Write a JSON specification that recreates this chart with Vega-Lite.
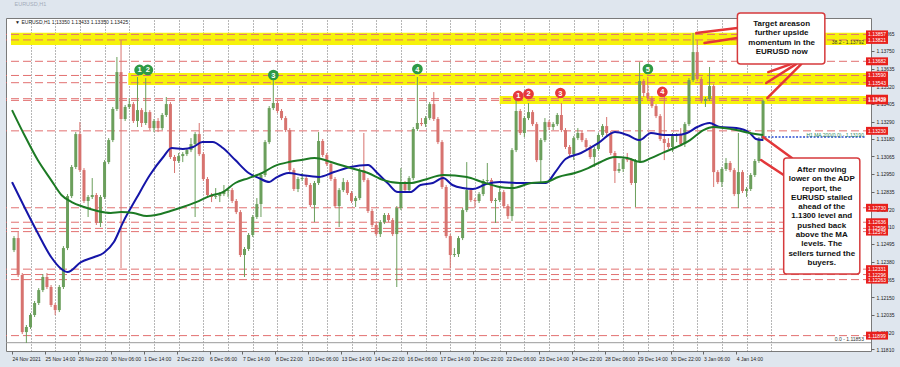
{
"$schema": "https://vega.github.io/schema/vega-lite/v6.json",
"width": 865, "height": 333,
"autosize": {"type": "none"},
"padding": {"left": 6, "top": 18, "right": 29, "bottom": 16},
"background": "#dfe6ee",
"title": {"text": "EURUSD,H1", "anchor": "start", "fontSize": 5.5, "fontWeight": "normal", "color": "#a4adba", "offset": 5, "dx": 9, "font": "Liberation Sans"},
"config": {"view": {"stroke": "#7a7a7a", "fill": "white"}, "font": "Liberation Sans"},
"resolve": {"axis": {"x": "independent", "y": "independent"}},
"datasets": {
"bands": [
{"t":-1,"t2":830,"p":1.13868,"p2":1.13788},
{"t":113,"t2":830,"p":1.13606,"p2":1.13528},
{"t":474,"t2":830,"p":1.13457,"p2":1.13405}
],
"levels": [
{"p":1.13857},{"p":1.13821},{"p":1.13682},{"p":1.13590},{"p":1.13543},{"p":1.13439},{"p":1.13428},{"p":1.13230},{"p":1.12730},{"p":1.12636},{"p":1.12596},{"p":1.12575},{"p":1.12331},{"p":1.12296},{"p":1.12263},{"p":1.11899}
],
"candles": [
{"t":0,"o":1.12455,"h":1.12546,"l":1.12442,"c":1.12533},
{"t":4,"o":1.12533,"h":1.12572,"l":1.12280,"c":1.12293},
{"t":8,"o":1.12293,"h":1.12306,"l":1.11909,"c":1.11922},
{"t":12,"o":1.11922,"h":1.11968,"l":1.11851,"c":1.11955},
{"t":16,"o":1.11955,"h":1.12046,"l":1.11942,"c":1.12033},
{"t":20,"o":1.12033,"h":1.12124,"l":1.12020,"c":1.12111},
{"t":24,"o":1.12111,"h":1.12208,"l":1.12098,"c":1.12195},
{"t":28,"o":1.12195,"h":1.12299,"l":1.12182,"c":1.12280},
{"t":32,"o":1.12280,"h":1.12306,"l":1.12202,"c":1.12215},
{"t":36,"o":1.12215,"h":1.12228,"l":1.12085,"c":1.12098},
{"t":40,"o":1.12098,"h":1.12111,"l":1.12033,"c":1.12065},
{"t":44,"o":1.12065,"h":1.12228,"l":1.12052,"c":1.12215},
{"t":48,"o":1.12215,"h":1.12481,"l":1.12202,"c":1.12468},
{"t":52,"o":1.12468,"h":1.12819,"l":1.12455,"c":1.12806},
{"t":56,"o":1.12806,"h":1.13008,"l":1.12793,"c":1.12995},
{"t":60,"o":1.12995,"h":1.13222,"l":1.12982,"c":1.13209},
{"t":64,"o":1.13209,"h":1.13287,"l":1.12962,"c":1.12975},
{"t":68,"o":1.12975,"h":1.12988,"l":1.12761,"c":1.12774},
{"t":72,"o":1.12774,"h":1.12813,"l":1.12670,"c":1.12800},
{"t":76,"o":1.12800,"h":1.12923,"l":1.12787,"c":1.12813},
{"t":80,"o":1.12813,"h":1.12826,"l":1.12618,"c":1.12631},
{"t":84,"o":1.12631,"h":1.12813,"l":1.12605,"c":1.12800},
{"t":88,"o":1.12800,"h":1.13040,"l":1.12787,"c":1.13027},
{"t":92,"o":1.13027,"h":1.13183,"l":1.13014,"c":1.13170},
{"t":96,"o":1.13170,"h":1.13385,"l":1.13157,"c":1.13372},
{"t":100,"o":1.13372,"h":1.13710,"l":1.13359,"c":1.13612},
{"t":104,"o":1.13612,"h":1.13820,"l":1.12338,"c":1.13307},
{"t":108,"o":1.13307,"h":1.13398,"l":1.13294,"c":1.13385},
{"t":112,"o":1.13385,"h":1.13443,"l":1.13372,"c":1.13404},
{"t":116,"o":1.13404,"h":1.13417,"l":1.13281,"c":1.13294},
{"t":120,"o":1.13294,"h":1.13580,"l":1.13255,"c":1.13365},
{"t":124,"o":1.13365,"h":1.13378,"l":1.13255,"c":1.13281},
{"t":128,"o":1.13281,"h":1.13573,"l":1.13268,"c":1.13352},
{"t":132,"o":1.13352,"h":1.13365,"l":1.13235,"c":1.13248},
{"t":136,"o":1.13248,"h":1.13307,"l":1.13222,"c":1.13294},
{"t":140,"o":1.13294,"h":1.13313,"l":1.13222,"c":1.13248},
{"t":144,"o":1.13248,"h":1.13346,"l":1.13235,"c":1.13333},
{"t":148,"o":1.13333,"h":1.13450,"l":1.13320,"c":1.13404},
{"t":152,"o":1.13404,"h":1.13417,"l":1.13047,"c":1.13060},
{"t":156,"o":1.13060,"h":1.13073,"l":1.12956,"c":1.13034},
{"t":160,"o":1.13034,"h":1.13086,"l":1.13021,"c":1.13066},
{"t":164,"o":1.13066,"h":1.13092,"l":1.13027,"c":1.13079},
{"t":168,"o":1.13079,"h":1.13118,"l":1.13066,"c":1.13105},
{"t":172,"o":1.13105,"h":1.13183,"l":1.13092,"c":1.13144},
{"t":176,"o":1.13144,"h":1.13222,"l":1.12670,"c":1.13209},
{"t":180,"o":1.13209,"h":1.13281,"l":1.13066,"c":1.13079},
{"t":184,"o":1.13079,"h":1.13092,"l":1.12904,"c":1.12917},
{"t":188,"o":1.12917,"h":1.12930,"l":1.12800,"c":1.12813},
{"t":192,"o":1.12813,"h":1.12826,"l":1.12767,"c":1.12800},
{"t":196,"o":1.12800,"h":1.12858,"l":1.12787,"c":1.12806},
{"t":200,"o":1.12806,"h":1.12832,"l":1.12767,"c":1.12819},
{"t":204,"o":1.12819,"h":1.12878,"l":1.12806,"c":1.12839},
{"t":208,"o":1.12839,"h":1.12858,"l":1.12800,"c":1.12845},
{"t":212,"o":1.12845,"h":1.12858,"l":1.12761,"c":1.12774},
{"t":216,"o":1.12774,"h":1.12787,"l":1.12689,"c":1.12702},
{"t":220,"o":1.12702,"h":1.12715,"l":1.12410,"c":1.12423},
{"t":224,"o":1.12423,"h":1.12475,"l":1.12280,"c":1.12462},
{"t":228,"o":1.12462,"h":1.12566,"l":1.12449,"c":1.12553},
{"t":232,"o":1.12553,"h":1.12683,"l":1.12540,"c":1.12670},
{"t":236,"o":1.12670,"h":1.12793,"l":1.12657,"c":1.12754},
{"t":240,"o":1.12754,"h":1.12956,"l":1.12670,"c":1.12943},
{"t":244,"o":1.12943,"h":1.13170,"l":1.12930,"c":1.13157},
{"t":248,"o":1.13157,"h":1.13391,"l":1.13144,"c":1.13378},
{"t":252,"o":1.13378,"h":1.13560,"l":1.13365,"c":1.13411},
{"t":256,"o":1.13411,"h":1.13424,"l":1.13346,"c":1.13359},
{"t":260,"o":1.13359,"h":1.13372,"l":1.13300,"c":1.13313},
{"t":264,"o":1.13313,"h":1.13326,"l":1.13222,"c":1.13235},
{"t":268,"o":1.13235,"h":1.13248,"l":1.12962,"c":1.12975},
{"t":272,"o":1.12975,"h":1.12988,"l":1.12839,"c":1.12852},
{"t":276,"o":1.12852,"h":1.12930,"l":1.12832,"c":1.12917},
{"t":280,"o":1.12917,"h":1.12956,"l":1.12904,"c":1.12923},
{"t":284,"o":1.12923,"h":1.12936,"l":1.12865,"c":1.12878},
{"t":288,"o":1.12878,"h":1.12891,"l":1.12735,"c":1.12748},
{"t":292,"o":1.12748,"h":1.12904,"l":1.12637,"c":1.12891},
{"t":296,"o":1.12891,"h":1.13222,"l":1.12878,"c":1.13164},
{"t":300,"o":1.13164,"h":1.13177,"l":1.13060,"c":1.13073},
{"t":304,"o":1.13073,"h":1.13086,"l":1.13001,"c":1.13014},
{"t":308,"o":1.13014,"h":1.13027,"l":1.12904,"c":1.12917},
{"t":312,"o":1.12917,"h":1.12930,"l":1.12728,"c":1.12741},
{"t":316,"o":1.12741,"h":1.12858,"l":1.12605,"c":1.12845},
{"t":320,"o":1.12845,"h":1.12923,"l":1.12832,"c":1.12897},
{"t":324,"o":1.12897,"h":1.12910,"l":1.12813,"c":1.12826},
{"t":328,"o":1.12826,"h":1.12839,"l":1.12761,"c":1.12774},
{"t":332,"o":1.12774,"h":1.12806,"l":1.12735,"c":1.12793},
{"t":336,"o":1.12793,"h":1.12988,"l":1.12780,"c":1.12975},
{"t":340,"o":1.12975,"h":1.13216,"l":1.12897,"c":1.12910},
{"t":344,"o":1.12910,"h":1.12923,"l":1.12696,"c":1.12709},
{"t":348,"o":1.12709,"h":1.12722,"l":1.12605,"c":1.12618},
{"t":352,"o":1.12618,"h":1.12631,"l":1.12546,"c":1.12559},
{"t":356,"o":1.12559,"h":1.12650,"l":1.12540,"c":1.12637},
{"t":360,"o":1.12637,"h":1.12696,"l":1.12624,"c":1.12683},
{"t":364,"o":1.12683,"h":1.12696,"l":1.12637,"c":1.12650},
{"t":368,"o":1.12650,"h":1.12663,"l":1.12546,"c":1.12559},
{"t":372,"o":1.12559,"h":1.12741,"l":1.12215,"c":1.12728},
{"t":376,"o":1.12728,"h":1.12988,"l":1.12715,"c":1.12891},
{"t":380,"o":1.12891,"h":1.12904,"l":1.12832,"c":1.12845},
{"t":384,"o":1.12845,"h":1.12936,"l":1.12832,"c":1.12923},
{"t":388,"o":1.12923,"h":1.13255,"l":1.12910,"c":1.13242},
{"t":392,"o":1.13242,"h":1.13580,"l":1.13229,"c":1.13281},
{"t":396,"o":1.13281,"h":1.13313,"l":1.13261,"c":1.13274},
{"t":400,"o":1.13274,"h":1.13326,"l":1.13255,"c":1.13313},
{"t":404,"o":1.13313,"h":1.13417,"l":1.13300,"c":1.13404},
{"t":408,"o":1.13404,"h":1.13482,"l":1.13294,"c":1.13307},
{"t":412,"o":1.13307,"h":1.13320,"l":1.13144,"c":1.13157},
{"t":416,"o":1.13157,"h":1.13170,"l":1.12852,"c":1.12865},
{"t":420,"o":1.12865,"h":1.12878,"l":1.12533,"c":1.12546},
{"t":424,"o":1.12546,"h":1.12559,"l":1.12338,"c":1.12423},
{"t":428,"o":1.12423,"h":1.12468,"l":1.12410,"c":1.12429},
{"t":432,"o":1.12429,"h":1.12546,"l":1.12410,"c":1.12533},
{"t":436,"o":1.12533,"h":1.12728,"l":1.12520,"c":1.12715},
{"t":440,"o":1.12715,"h":1.13027,"l":1.12702,"c":1.12845},
{"t":444,"o":1.12845,"h":1.12858,"l":1.12767,"c":1.12780},
{"t":448,"o":1.12780,"h":1.12793,"l":1.12735,"c":1.12774},
{"t":452,"o":1.12774,"h":1.12832,"l":1.12761,"c":1.12819},
{"t":456,"o":1.12819,"h":1.12917,"l":1.12806,"c":1.12904},
{"t":460,"o":1.12904,"h":1.13021,"l":1.12891,"c":1.12910},
{"t":464,"o":1.12910,"h":1.12923,"l":1.12761,"c":1.12774},
{"t":468,"o":1.12774,"h":1.12793,"l":1.12631,"c":1.12780},
{"t":472,"o":1.12780,"h":1.12858,"l":1.12767,"c":1.12832},
{"t":476,"o":1.12832,"h":1.12845,"l":1.12728,"c":1.12741},
{"t":480,"o":1.12741,"h":1.12754,"l":1.12657,"c":1.12676},
{"t":484,"o":1.12676,"h":1.13118,"l":1.12644,"c":1.13105},
{"t":488,"o":1.13105,"h":1.13443,"l":1.13092,"c":1.13359},
{"t":492,"o":1.13359,"h":1.13372,"l":1.13203,"c":1.13216},
{"t":496,"o":1.13216,"h":1.13326,"l":1.13190,"c":1.13313},
{"t":500,"o":1.13313,"h":1.13411,"l":1.13300,"c":1.13352},
{"t":504,"o":1.13352,"h":1.13365,"l":1.13261,"c":1.13274},
{"t":508,"o":1.13274,"h":1.13287,"l":1.13027,"c":1.13040},
{"t":512,"o":1.13040,"h":1.13183,"l":1.12897,"c":1.13170},
{"t":516,"o":1.13170,"h":1.13313,"l":1.13157,"c":1.13287},
{"t":520,"o":1.13287,"h":1.13300,"l":1.13235,"c":1.13255},
{"t":524,"o":1.13255,"h":1.13287,"l":1.13235,"c":1.13274},
{"t":528,"o":1.13274,"h":1.13346,"l":1.13261,"c":1.13333},
{"t":532,"o":1.13333,"h":1.13411,"l":1.13222,"c":1.13235},
{"t":536,"o":1.13235,"h":1.13248,"l":1.13112,"c":1.13125},
{"t":540,"o":1.13125,"h":1.13138,"l":1.13066,"c":1.13079},
{"t":544,"o":1.13079,"h":1.13196,"l":1.13040,"c":1.13183},
{"t":548,"o":1.13183,"h":1.13248,"l":1.13170,"c":1.13216},
{"t":552,"o":1.13216,"h":1.13229,"l":1.13157,"c":1.13170},
{"t":556,"o":1.13170,"h":1.13183,"l":1.13112,"c":1.13125},
{"t":560,"o":1.13125,"h":1.13138,"l":1.13047,"c":1.13060},
{"t":564,"o":1.13060,"h":1.13125,"l":1.12995,"c":1.13112},
{"t":568,"o":1.13112,"h":1.13216,"l":1.13099,"c":1.13203},
{"t":572,"o":1.13203,"h":1.13274,"l":1.13190,"c":1.13261},
{"t":576,"o":1.13261,"h":1.13320,"l":1.13203,"c":1.13216},
{"t":580,"o":1.13216,"h":1.13229,"l":1.13073,"c":1.13086},
{"t":584,"o":1.13086,"h":1.13099,"l":1.12891,"c":1.12969},
{"t":588,"o":1.12969,"h":1.13021,"l":1.12956,"c":1.12982},
{"t":592,"o":1.12982,"h":1.13060,"l":1.12962,"c":1.13047},
{"t":596,"o":1.13047,"h":1.13086,"l":1.13027,"c":1.13040},
{"t":600,"o":1.13040,"h":1.13053,"l":1.12878,"c":1.12891},
{"t":604,"o":1.12891,"h":1.13047,"l":1.12735,"c":1.13034},
{"t":608,"o":1.13034,"h":1.13677,"l":1.13021,"c":1.13554},
{"t":612,"o":1.13554,"h":1.13567,"l":1.13450,"c":1.13476},
{"t":616,"o":1.13476,"h":1.13580,"l":1.13430,"c":1.13443},
{"t":620,"o":1.13443,"h":1.13456,"l":1.13378,"c":1.13391},
{"t":624,"o":1.13391,"h":1.13404,"l":1.13313,"c":1.13326},
{"t":628,"o":1.13326,"h":1.13339,"l":1.13164,"c":1.13177},
{"t":632,"o":1.13177,"h":1.13476,"l":1.13040,"c":1.13151},
{"t":636,"o":1.13151,"h":1.13183,"l":1.13112,"c":1.13125},
{"t":640,"o":1.13125,"h":1.13216,"l":1.13092,"c":1.13196},
{"t":644,"o":1.13196,"h":1.13216,"l":1.13157,"c":1.13203},
{"t":648,"o":1.13203,"h":1.13248,"l":1.13131,"c":1.13144},
{"t":652,"o":1.13144,"h":1.13287,"l":1.13125,"c":1.13274},
{"t":656,"o":1.13274,"h":1.13573,"l":1.13261,"c":1.13560},
{"t":660,"o":1.13560,"h":1.13866,"l":1.13547,"c":1.13742},
{"t":664,"o":1.13742,"h":1.13820,"l":1.13554,"c":1.13567},
{"t":668,"o":1.13567,"h":1.13580,"l":1.13411,"c":1.13424},
{"t":672,"o":1.13424,"h":1.13450,"l":1.13385,"c":1.13437},
{"t":676,"o":1.13437,"h":1.13645,"l":1.13424,"c":1.13521},
{"t":680,"o":1.13521,"h":1.13534,"l":1.12865,"c":1.12962},
{"t":684,"o":1.12962,"h":1.12975,"l":1.12884,"c":1.12897},
{"t":688,"o":1.12897,"h":1.12995,"l":1.12865,"c":1.12982},
{"t":692,"o":1.12982,"h":1.13053,"l":1.12969,"c":1.13021},
{"t":696,"o":1.13021,"h":1.13034,"l":1.12962,"c":1.12975},
{"t":700,"o":1.12975,"h":1.12988,"l":1.12806,"c":1.12819},
{"t":704,"o":1.12819,"h":1.13216,"l":1.12728,"c":1.12962},
{"t":708,"o":1.12962,"h":1.12975,"l":1.12826,"c":1.12839},
{"t":712,"o":1.12839,"h":1.12865,"l":1.12800,"c":1.12852},
{"t":716,"o":1.12852,"h":1.12956,"l":1.12839,"c":1.12943},
{"t":720,"o":1.12943,"h":1.13047,"l":1.12930,"c":1.13034},
{"t":724,"o":1.13034,"h":1.13190,"l":1.13021,"c":1.13177},
{"t":728,"o":1.13177,"h":1.13433,"l":1.13164,"c":1.13425}
],
"mab": [
{"t":0,"v":1.12897},{"t":12,"v":1.12735},{"t":25,"v":1.12566},{"t":38,"v":1.12410},{"t":48,"v":1.12332},{"t":54,"v":1.12312},{"t":67,"v":1.12377},{"t":80,"v":1.12410},{"t":89,"v":1.12436},{"t":99,"v":1.12507},{"t":108,"v":1.12637},{"t":121,"v":1.12793},{"t":134,"v":1.12943},{"t":147,"v":1.13060},{"t":155,"v":1.13118},{"t":166,"v":1.13112},{"t":176,"v":1.13125},{"t":185,"v":1.13157},{"t":195,"v":1.13157},{"t":205,"v":1.13118},{"t":217,"v":1.13040},{"t":230,"v":1.12956},{"t":240,"v":1.12923},{"t":250,"v":1.12897},{"t":256,"v":1.12923},{"t":269,"v":1.12956},{"t":281,"v":1.12943},{"t":298,"v":1.12930},{"t":313,"v":1.12962},{"t":329,"v":1.12995},{"t":346,"v":1.13008},{"t":355,"v":1.12956},{"t":365,"v":1.12891},{"t":375,"v":1.12832},{"t":387,"v":1.12832},{"t":397,"v":1.12878},{"t":409,"v":1.12891},{"t":419,"v":1.12923},{"t":428,"v":1.12878},{"t":438,"v":1.12858},{"t":448,"v":1.12852},{"t":461,"v":1.12884},{"t":474,"v":1.12897},{"t":490,"v":1.12891},{"t":505,"v":1.12891},{"t":519,"v":1.12891},{"t":528,"v":1.12962},{"t":538,"v":1.13047},{"t":553,"v":1.13086},{"t":570,"v":1.13151},{"t":586,"v":1.13222},{"t":598,"v":1.13203},{"t":610,"v":1.13170},{"t":621,"v":1.13216},{"t":634,"v":1.13203},{"t":646,"v":1.13203},{"t":656,"v":1.13216},{"t":666,"v":1.13255},{"t":678,"v":1.13281},{"t":688,"v":1.13255},{"t":704,"v":1.13248},{"t":717,"v":1.13216},{"t":723,"v":1.13177},{"t":730,"v":1.13170}
],
"mag": [
{"t":0,"v":1.13365},{"t":12,"v":1.13203},{"t":25,"v":1.13040},{"t":38,"v":1.12910},{"t":48,"v":1.12813},{"t":58,"v":1.12767},{"t":70,"v":1.12735},{"t":83,"v":1.12709},{"t":96,"v":1.12696},{"t":106,"v":1.12702},{"t":118,"v":1.12696},{"t":131,"v":1.12676},{"t":140,"v":1.12683},{"t":154,"v":1.12709},{"t":166,"v":1.12735},{"t":179,"v":1.12767},{"t":192,"v":1.12806},{"t":205,"v":1.12832},{"t":217,"v":1.12891},{"t":230,"v":1.12923},{"t":243,"v":1.12956},{"t":255,"v":1.13001},{"t":269,"v":1.13027},{"t":281,"v":1.13040},{"t":294,"v":1.13053},{"t":313,"v":1.13021},{"t":329,"v":1.12988},{"t":346,"v":1.12956},{"t":361,"v":1.12910},{"t":377,"v":1.12891},{"t":387,"v":1.12891},{"t":400,"v":1.12910},{"t":419,"v":1.12943},{"t":442,"v":1.12930},{"t":457,"v":1.12897},{"t":474,"v":1.12865},{"t":486,"v":1.12858},{"t":505,"v":1.12891},{"t":519,"v":1.12897},{"t":531,"v":1.12930},{"t":547,"v":1.12956},{"t":560,"v":1.12988},{"t":570,"v":1.13021},{"t":586,"v":1.13060},{"t":598,"v":1.13053},{"t":611,"v":1.13027},{"t":621,"v":1.13053},{"t":634,"v":1.13092},{"t":646,"v":1.13125},{"t":659,"v":1.13170},{"t":672,"v":1.13235},{"t":682,"v":1.13255},{"t":692,"v":1.13248},{"t":704,"v":1.13235},{"t":717,"v":1.13216},{"t":730,"v":1.13203}
],
"arrows": [
{"t":705,"p":1.13898,"t2":665,"p2":1.13866},
{"t":705,"p":1.13833,"t2":673,"p2":1.13801},
{"t":757,"p":1.13664,"t2":735,"p2":1.13612},
{"t":762,"p":1.13664,"t2":733,"p2":1.13541},
{"t":767,"p":1.13664,"t2":734,"p2":1.13443},
{"t":758,"p":1.13053,"t2":730,"p2":1.13190},
{"t":750,"p":1.12943,"t2":728,"p2":1.13040}
],
"markers": [
{"t":124,"p":1.13626,"n":"1","kind":"upper"},
{"t":132,"p":1.13626,"n":"2","kind":"upper"},
{"t":254,"p":1.13593,"n":"3","kind":"upper"},
{"t":394,"p":1.13632,"n":"4","kind":"upper"},
{"t":618,"p":1.13632,"n":"5","kind":"upper"},
{"t":492,"p":1.13457,"n":"1","kind":"lower"},
{"t":502,"p":1.13470,"n":"2","kind":"lower"},
{"t":533,"p":1.13476,"n":"3","kind":"lower"},
{"t":632,"p":1.13483,"n":"4","kind":"lower"}
],
"boxes": [
{"t":705,"t2":790,"p":1.13996,"p2":1.13664},
{"t":750,"t2":824,"p":1.13053,"p2":1.12299}
],
"boxtext": [
{"t":748,"p":1.13925,"txt":"Target areason\nfurther upside\nmomentum in the\nEURUSD now"},
{"t":787,"p":1.12976,"txt":"After moving\nlower on the ADP\nreport, the\nEURUSD stalled\nahead of the\n1.1300 level and\npushed back\nabove the MA\nlevels.  The\nsellers turned the\nbuyers."}
],
"info": [
{"t":3,"p":1.13938,"txt":"▼ EURUSD,H1  1.13350 1.13433 1.13350 1.13425"}
],
"fib": [
{"t":828,"p":1.13808,"txt":"38.2 - 1.13792"},
{"t":828,"p":1.11877,"txt":"0.0 - 1.11853"}
],
"malab": [
{"t":828,"p":1.13203,"txt":"H1 MA 200(0.0) - 1.13190"}
]
},
"layer": [
{"data": {"name": "bands"}, "mark": {"type": "rect", "color": "#f6f20c"},
 "encoding": {
  "x": {"field": "t", "type": "quantitative", "scale": {"domain": [-1, 830], "nice": false, "zero": false},
        "axis": {"orient": "top", "values": [18,42,66,90,114,138,162,186,210,234,258,282,306,330,354,378,402,426,450,474,498,522,546,570,594,618,642,666,690,714,738], "grid": true, "gridDash": [1, 2], "gridColor": "#6e6e6e", "labels": false, "ticks": false, "domain": false, "title": null}},
  "x2": {"field": "t2"},
  "y": {"field": "p", "type": "quantitative", "scale": {"domain": [1.11799, 1.139635], "nice": false, "zero": false},
        "axis": {"orient": "right", "values": [1.13865,1.1375,1.13635,1.1352,1.13405,1.1329,1.1318,1.13065,1.1295,1.12835,1.1272,1.1261,1.12495,1.1238,1.12265,1.1215,1.12035,1.1192,1.1181], "format": ".5f", "labelFontSize": 5, "labelColor": "#222222", "tickSize": 3, "tickColor": "#666666", "labelPadding": 2, "domain": false, "grid": false, "title": null, "labelOverlap": false, "labelBound": false}},
  "y2": {"field": "p2"}
 }},
{"data": {"name": "levels"}, "mark": {"type": "rule", "color": "#e27070", "strokeDash": [8, 4], "strokeWidth": 1},
 "encoding": {
  "y": {"field": "p", "type": "quantitative", "scale": {"domain": [1.11799, 1.139635], "nice": false, "zero": false}, "axis": null}
 }},
{"data": {"values": [{}]}, "mark": {"type": "rule", "color": "#9a9a9a", "strokeWidth": 1},
 "encoding": {
  "y": {"datum": 1.11853, "type": "quantitative", "scale": {"domain": [1.11799, 1.139635], "nice": false, "zero": false}, "axis": null}
 }},
{"data": {"values": [{}]}, "mark": {"type": "rule", "color": "#2a4bd0", "strokeDash": [2, 1.5], "strokeWidth": 1.5},
 "encoding": {
  "x": {"datum": 728, "type": "quantitative", "scale": {"domain": [-1, 830], "nice": false, "zero": false}, "axis": null},
  "x2": {"datum": 830},
  "y": {"datum": 1.1319, "type": "quantitative", "scale": {"domain": [1.11799, 1.139635], "nice": false, "zero": false}, "axis": null}
 }},
{"data": {"name": "candles"}, "mark": {"type": "rule", "strokeWidth": 1, "xOffset": 2},
 "encoding": {
  "x": {"field": "t", "type": "quantitative", "scale": {"domain": [-1, 830], "nice": false, "zero": false},
        "axis": {"orient": "bottom", "values": [0,32,64,96,128,160,192,224,256,288,320,352,384,416,448,480,512,544,576,608,640,672,704],
                 "labelExpr": "['24 Nov 2021','25 Nov 14:00','26 Nov 22:00','30 Nov 06:00','1 Dec 14:00','2 Dec 22:00','6 Dec 06:00','7 Dec 14:00','8 Dec 22:00','10 Dec 06:00','13 Dec 14:00','14 Dec 22:00','16 Dec 06:00','17 Dec 14:00','20 Dec 22:00','22 Dec 06:00','23 Dec 14:00','24 Dec 22:00','28 Dec 06:00','29 Dec 14:00','30 Dec 22:00','3 Jan 06:00','4 Jan 14:00'][round(datum.value/32)]",
                 "labelFontSize": 5, "labelColor": "#222222", "labelAlign": "left", "labelBaseline": "top", "labelPadding": 2, "tickSize": 3, "tickColor": "#666666", "domain": false, "grid": false, "title": null, "labelOverlap": false, "labelBound": false, "labelFlush": false}},
  "y": {"field": "l", "type": "quantitative", "scale": {"domain": [1.11799, 1.139635], "nice": false, "zero": false}, "axis": null},
  "y2": {"field": "h"},
  "color": {"condition": {"test": "datum.c >= datum.o", "value": "#6b9f5c"}, "value": "#d7736f"}
 }},
{"data": {"name": "candles"}, "mark": {"type": "bar", "width": 3, "xOffset": 2},
 "encoding": {
  "x": {"field": "t", "type": "quantitative", "scale": {"domain": [-1, 830], "nice": false, "zero": false}, "axis": null},
  "y": {"field": "o", "type": "quantitative", "scale": {"domain": [1.11799, 1.139635], "nice": false, "zero": false}, "axis": null},
  "y2": {"field": "c"},
  "color": {"condition": {"test": "datum.c >= datum.o", "value": "#6b9f5c"}, "value": "#d7736f"}
 }},
{"data": {"name": "mab"}, "mark": {"type": "line", "color": "#1515a8", "strokeWidth": 2, "interpolate": "monotone"},
 "encoding": {
  "x": {"field": "t", "type": "quantitative", "scale": {"domain": [-1, 830], "nice": false, "zero": false}, "axis": null},
  "y": {"field": "v", "type": "quantitative", "scale": {"domain": [1.11799, 1.139635], "nice": false, "zero": false}, "axis": null}
 }},
{"data": {"name": "mag"}, "mark": {"type": "line", "color": "#1c7a24", "strokeWidth": 2, "interpolate": "monotone"},
 "encoding": {
  "x": {"field": "t", "type": "quantitative", "scale": {"domain": [-1, 830], "nice": false, "zero": false}, "axis": null},
  "y": {"field": "v", "type": "quantitative", "scale": {"domain": [1.11799, 1.139635], "nice": false, "zero": false}, "axis": null}
 }},
{"data": {"name": "arrows"}, "mark": {"type": "rule", "color": "#e3373a", "strokeWidth": 2.5, "strokeCap": "round"},
 "encoding": {
  "x": {"field": "t", "type": "quantitative", "scale": {"domain": [-1, 830], "nice": false, "zero": false}, "axis": null},
  "x2": {"field": "t2"},
  "y": {"field": "p", "type": "quantitative", "scale": {"domain": [1.11799, 1.139635], "nice": false, "zero": false}, "axis": null},
  "y2": {"field": "p2"}
 }},
{"data": {"name": "markers"}, "mark": {"type": "point", "shape": "circle", "filled": true, "size": 115, "opacity": 1},
 "encoding": {
  "x": {"field": "t", "type": "quantitative", "scale": {"domain": [-1, 830], "nice": false, "zero": false}, "axis": null},
  "y": {"field": "p", "type": "quantitative", "scale": {"domain": [1.11799, 1.139635], "nice": false, "zero": false}, "axis": null},
  "color": {"field": "kind", "type": "nominal", "scale": {"domain": ["upper", "lower"], "range": ["#2f9a45", "#e5393b"]}, "legend": null}
 }},
{"data": {"name": "markers"}, "mark": {"type": "text", "fontSize": 7.5, "fontWeight": "bold", "color": "white", "baseline": "middle", "align": "center", "dy": 0.5},
 "encoding": {
  "x": {"field": "t", "type": "quantitative", "scale": {"domain": [-1, 830], "nice": false, "zero": false}, "axis": null},
  "y": {"field": "p", "type": "quantitative", "scale": {"domain": [1.11799, 1.139635], "nice": false, "zero": false}, "axis": null},
  "text": {"field": "n"}
 }},
{"data": {"name": "boxes"}, "mark": {"type": "rect", "fill": "white", "stroke": "#d63a3c", "strokeWidth": 1.5, "cornerRadius": 3},
 "encoding": {
  "x": {"field": "t", "type": "quantitative", "scale": {"domain": [-1, 830], "nice": false, "zero": false}, "axis": null},
  "x2": {"field": "t2"},
  "y": {"field": "p", "type": "quantitative", "scale": {"domain": [1.11799, 1.139635], "nice": false, "zero": false}, "axis": null},
  "y2": {"field": "p2"}
 }},
{"data": {"name": "boxtext"}, "mark": {"type": "text", "fontSize": 8, "fontWeight": "bold", "color": "#111111", "align": "center", "baseline": "middle", "lineBreak": "\n", "lineHeight": 9.3},
 "encoding": {
  "x": {"field": "t", "type": "quantitative", "scale": {"domain": [-1, 830], "nice": false, "zero": false}, "axis": null},
  "y": {"field": "p", "type": "quantitative", "scale": {"domain": [1.11799, 1.139635], "nice": false, "zero": false}, "axis": null},
  "text": {"field": "txt"}
 }},
{"data": {"name": "levels"}, "mark": {"type": "point", "shape": "M-1,-0.36L1,-0.36L1,0.36L-1,0.36Z", "filled": true, "size": 484, "color": "#e8201c", "opacity": 1, "xOffset": 11},
 "encoding": {
  "x": {"datum": 830, "type": "quantitative", "scale": {"domain": [-1, 830], "nice": false, "zero": false}, "axis": null},
  "y": {"field": "p", "type": "quantitative", "scale": {"domain": [1.11799, 1.139635], "nice": false, "zero": false}, "axis": null}
 }},
{"data": {"name": "levels"}, "mark": {"type": "text", "fontSize": 5, "color": "white", "align": "left", "baseline": "middle", "dx": 2},
 "encoding": {
  "x": {"datum": 830, "type": "quantitative", "scale": {"domain": [-1, 830], "nice": false, "zero": false}, "axis": null},
  "y": {"field": "p", "type": "quantitative", "scale": {"domain": [1.11799, 1.139635], "nice": false, "zero": false}, "axis": null},
  "text": {"field": "p", "format": ".5f"}
 }},
{"data": {"name": "info"}, "mark": {"type": "text", "fontSize": 5, "color": "#222222", "align": "left", "baseline": "middle"},
 "encoding": {
  "x": {"field": "t", "type": "quantitative", "scale": {"domain": [-1, 830], "nice": false, "zero": false}, "axis": null},
  "y": {"field": "p", "type": "quantitative", "scale": {"domain": [1.11799, 1.139635], "nice": false, "zero": false}, "axis": null},
  "text": {"field": "txt"}
 }},
{"data": {"name": "fib"}, "mark": {"type": "text", "fontSize": 5, "color": "#333333", "align": "right", "baseline": "middle"},
 "encoding": {
  "x": {"field": "t", "type": "quantitative", "scale": {"domain": [-1, 830], "nice": false, "zero": false}, "axis": null},
  "y": {"field": "p", "type": "quantitative", "scale": {"domain": [1.11799, 1.139635], "nice": false, "zero": false}, "axis": null},
  "text": {"field": "txt"}
 }},
{"data": {"name": "malab"}, "mark": {"type": "text", "fontSize": 5, "color": "#2a8a5a", "align": "right", "baseline": "middle"},
 "encoding": {
  "x": {"field": "t", "type": "quantitative", "scale": {"domain": [-1, 830], "nice": false, "zero": false}, "axis": null},
  "y": {"field": "p", "type": "quantitative", "scale": {"domain": [1.11799, 1.139635], "nice": false, "zero": false}, "axis": null},
  "text": {"field": "txt"}
 }}
]
}
